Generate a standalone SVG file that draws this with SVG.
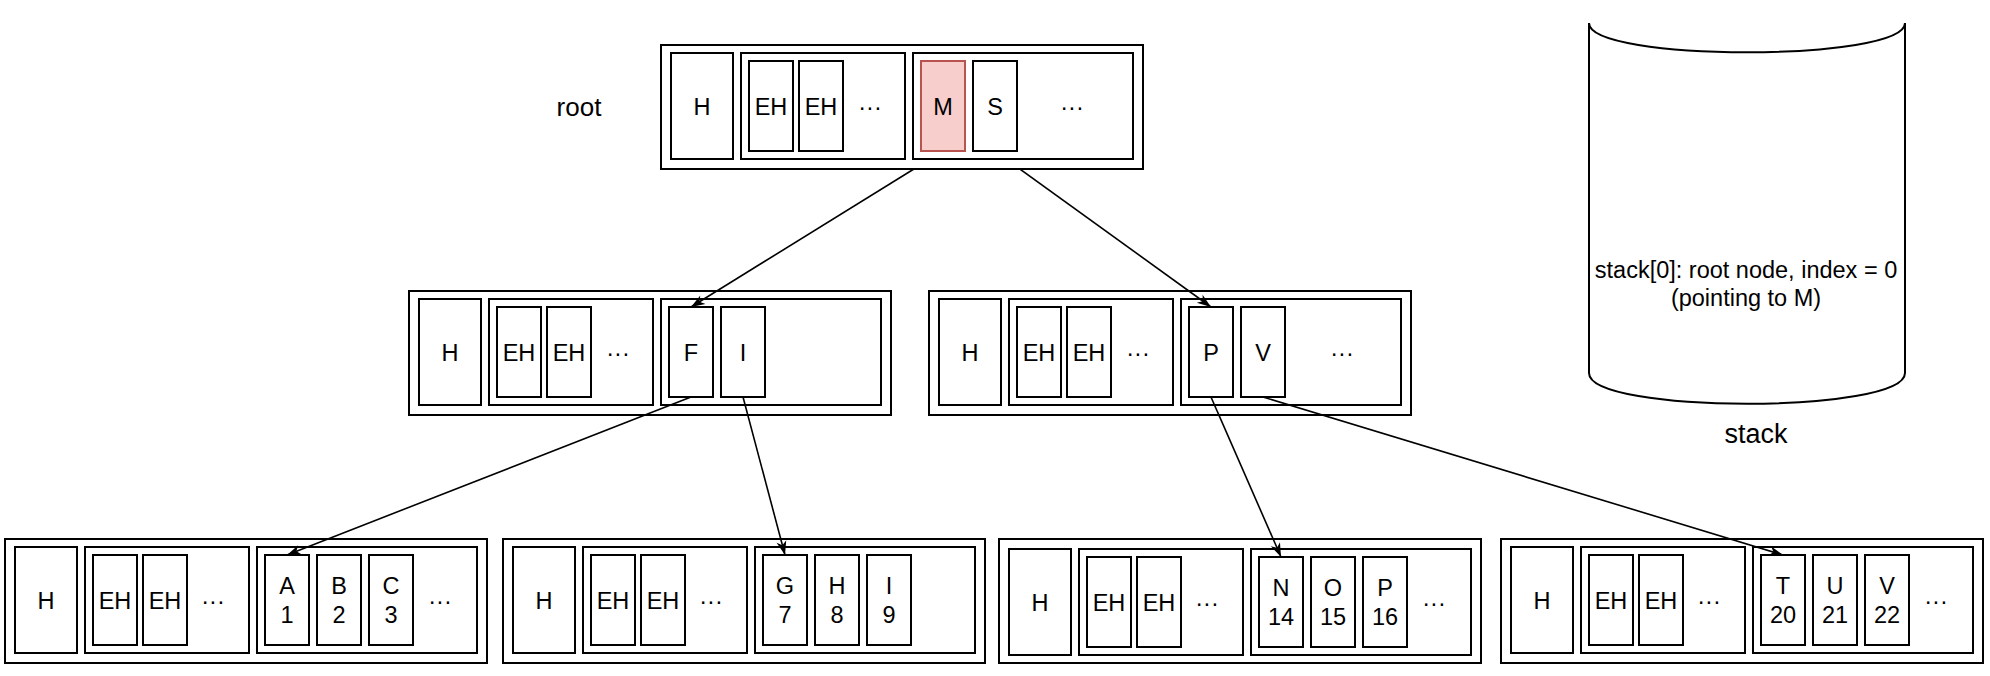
<svg xmlns="http://www.w3.org/2000/svg" width="1990" height="676" viewBox="0 0 1990 676">
<style>
.b{fill:#fff;stroke:#000;stroke-width:2}
.m{fill:#f8cecc;stroke:#b85450;stroke-width:2}
.t{font-family:"Liberation Sans",Arial,Helvetica,sans-serif;font-size:23.5px;fill:#000;text-anchor:middle}
.e{fill:none;stroke:#000;stroke-width:1.6;marker-end:url(#arr)}
</style>
<defs>
<marker id="arr" markerUnits="userSpaceOnUse" markerWidth="16" markerHeight="12" refX="14" refY="5" orient="auto" overflow="visible">
<path d="M0,0 L14,5 L0,10 L4,5 Z" fill="#000"/>
</marker>
</defs>
<rect width="1990" height="676" fill="#fff"/>

<g id="mid-left">
<rect class="b" x="409" y="291" width="482" height="124"/>
<rect class="b" x="419" y="299" width="62" height="106"/><text class="t" x="450" y="361">H</text>
<rect class="b" x="489" y="299" width="164" height="106"/>
<rect class="b" x="497" y="307" width="44" height="90"/><text class="t" x="519" y="361">EH</text>
<rect class="b" x="547" y="307" width="44" height="90"/><text class="t" x="569" y="361">EH</text>
<text class="t" x="618" y="361">···</text>
<rect class="b" x="661" y="299" width="220" height="106"/>
<rect class="b" x="669" y="307" width="44" height="90"/><text class="t" x="691" y="361">F</text>
<rect class="b" x="721" y="307" width="44" height="90"/><text class="t" x="743" y="361">I</text>
</g>

<g id="mid-right">
<rect class="b" x="929" y="291" width="482" height="124"/>
<rect class="b" x="939" y="299" width="62" height="106"/><text class="t" x="970" y="361">H</text>
<rect class="b" x="1009" y="299" width="164" height="106"/>
<rect class="b" x="1017" y="307" width="44" height="90"/><text class="t" x="1039" y="361">EH</text>
<rect class="b" x="1067" y="307" width="44" height="90"/><text class="t" x="1089" y="361">EH</text>
<text class="t" x="1138" y="361">···</text>
<rect class="b" x="1181" y="299" width="220" height="106"/>
<rect class="b" x="1189" y="307" width="44" height="90"/><text class="t" x="1211" y="361">P</text>
<rect class="b" x="1241" y="307" width="44" height="90"/><text class="t" x="1263" y="361">V</text>
<text class="t" x="1342" y="361">···</text>
</g>

<g id="leaf-1">
<rect class="b" x="5" y="539" width="482" height="124"/>
<rect class="b" x="15" y="547" width="62" height="106"/><text class="t" x="46" y="609">H</text>
<rect class="b" x="85" y="547" width="164" height="106"/>
<rect class="b" x="93" y="555" width="44" height="90"/><text class="t" x="115" y="609">EH</text>
<rect class="b" x="143" y="555" width="44" height="90"/><text class="t" x="165" y="609">EH</text>
<text class="t" x="213" y="609">···</text>
<rect class="b" x="257" y="547" width="220" height="106"/>
<rect class="b" x="265" y="555" width="44" height="90"/><text class="t" x="287" y="594">A</text><text class="t" x="287" y="623">1</text>
<rect class="b" x="317" y="555" width="44" height="90"/><text class="t" x="339" y="594">B</text><text class="t" x="339" y="623">2</text>
<rect class="b" x="369" y="555" width="44" height="90"/><text class="t" x="391" y="594">C</text><text class="t" x="391" y="623">3</text>
<text class="t" x="440" y="609">···</text>
</g>

<g id="leaf-2">
<rect class="b" x="503" y="539" width="482" height="124"/>
<rect class="b" x="513" y="547" width="62" height="106"/><text class="t" x="544" y="609">H</text>
<rect class="b" x="583" y="547" width="164" height="106"/>
<rect class="b" x="591" y="555" width="44" height="90"/><text class="t" x="613" y="609">EH</text>
<rect class="b" x="641" y="555" width="44" height="90"/><text class="t" x="663" y="609">EH</text>
<text class="t" x="711" y="609">···</text>
<rect class="b" x="755" y="547" width="220" height="106"/>
<rect class="b" x="763" y="555" width="44" height="90"/><text class="t" x="785" y="594">G</text><text class="t" x="785" y="623">7</text>
<rect class="b" x="815" y="555" width="44" height="90"/><text class="t" x="837" y="594">H</text><text class="t" x="837" y="623">8</text>
<rect class="b" x="867" y="555" width="44" height="90"/><text class="t" x="889" y="594">I</text><text class="t" x="889" y="623">9</text>
</g>

<g id="leaf-3">
<rect class="b" x="999" y="539" width="482" height="124"/>
<rect class="b" x="1009" y="549" width="62" height="106"/><text class="t" x="1040" y="611">H</text>
<rect class="b" x="1079" y="549" width="164" height="106"/>
<rect class="b" x="1087" y="557" width="44" height="90"/><text class="t" x="1109" y="611">EH</text>
<rect class="b" x="1137" y="557" width="44" height="90"/><text class="t" x="1159" y="611">EH</text>
<text class="t" x="1207" y="611">···</text>
<rect class="b" x="1251" y="549" width="220" height="106"/>
<rect class="b" x="1259" y="557" width="44" height="90"/><text class="t" x="1281" y="596">N</text><text class="t" x="1281" y="625">14</text>
<rect class="b" x="1311" y="557" width="44" height="90"/><text class="t" x="1333" y="596">O</text><text class="t" x="1333" y="625">15</text>
<rect class="b" x="1363" y="557" width="44" height="90"/><text class="t" x="1385" y="596">P</text><text class="t" x="1385" y="625">16</text>
<text class="t" x="1434" y="611">···</text>
</g>

<g id="leaf-4">
<rect class="b" x="1501" y="539" width="482" height="124"/>
<rect class="b" x="1511" y="547" width="62" height="106"/><text class="t" x="1542" y="609">H</text>
<rect class="b" x="1581" y="547" width="164" height="106"/>
<rect class="b" x="1589" y="555" width="44" height="90"/><text class="t" x="1611" y="609">EH</text>
<rect class="b" x="1639" y="555" width="44" height="90"/><text class="t" x="1661" y="609">EH</text>
<text class="t" x="1709" y="609">···</text>
<rect class="b" x="1753" y="547" width="220" height="106"/>
<rect class="b" x="1761" y="555" width="44" height="90"/><text class="t" x="1783" y="594">T</text><text class="t" x="1783" y="623">20</text>
<rect class="b" x="1813" y="555" width="44" height="90"/><text class="t" x="1835" y="594">U</text><text class="t" x="1835" y="623">21</text>
<rect class="b" x="1865" y="555" width="44" height="90"/><text class="t" x="1887" y="594">V</text><text class="t" x="1887" y="623">22</text>
<text class="t" x="1936" y="609">···</text>
</g>

<g id="connectors">
<line class="e" x1="943" y1="151" x2="691" y2="307"/>
<line class="e" x1="995" y1="151" x2="1211" y2="307"/>
<line class="e" x1="691" y1="397" x2="287" y2="555"/>
<line class="e" x1="743" y1="397" x2="785" y2="555"/>
<line class="e" x1="1211" y1="397" x2="1281" y2="557"/>
<line class="e" x1="1263" y1="397" x2="1783" y2="555"/>
</g>

<g id="root">
<rect class="b" x="661" y="45" width="482" height="124"/>
<rect class="b" x="671" y="53" width="62" height="106"/><text class="t" x="702" y="115">H</text>
<rect class="b" x="741" y="53" width="164" height="106"/>
<rect class="b" x="749" y="61" width="44" height="90"/><text class="t" x="771" y="115">EH</text>
<rect class="b" x="799" y="61" width="44" height="90"/><text class="t" x="821" y="115">EH</text>
<text class="t" x="870" y="115">···</text>
<rect class="b" x="913" y="53" width="220" height="106"/>
<rect class="m" x="921" y="61" width="44" height="90"/><text class="t" x="943" y="115">M</text>
<rect class="b" x="973" y="61" width="44" height="90"/><text class="t" x="995" y="115">S</text>
<text class="t" x="1072" y="115">···</text>
</g>

<g id="root-label">
<text class="t" x="579" y="116" style="font-size:26px">root</text>
</g>

<g id="stack">
<path d="M1589,23 L1589,373 C1589,414 1905,414 1905,373 L1905,23" fill="#fff" stroke="#000" stroke-width="2"/>
<path d="M1589,23 C1589,62 1905,62 1905,23" fill="none" stroke="#000" stroke-width="2"/>
<text class="t" x="1746" y="278" style="font-size:23.5px">stack[0]: root node, index = 0</text>
<text class="t" x="1746" y="306" style="font-size:23.5px">(pointing to M)</text>
<text class="t" x="1756" y="443" style="font-size:27px">stack</text>
</g>
</svg>
